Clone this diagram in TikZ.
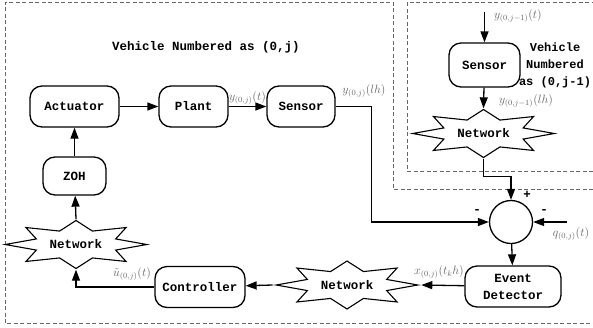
\documentclass[tikz,border=0pt]{standalone}
\usepackage{amsmath}
\usepackage{fontspec}
\newfontfamily\blockfont{Liberation Mono}
\usetikzlibrary{shapes.geometric, arrows.meta, positioning}

\begin{document}
\begin{tikzpicture}[
    x=1pt, y=-1pt,
    block/.style={rectangle, draw, line width=1.3pt, rounded corners=12pt, minimum height=41pt, align=center, fill=white, inner sep=2pt, font=\blockfont\bfseries\fontsize{12.5}{17}\selectfont},
    netstar/.style={star, star points=8, star point ratio=1.65, draw, line width=1.1pt, fill=white, inner sep=0pt, minimum size=48pt, xscale=2.95, transform shape},
    nettext/.style={font=\blockfont\bfseries\fontsize{12.5}{14}\selectfont, inner sep=0pt},
    sumcirc/.style={circle, draw, line width=1.3pt, minimum size=43pt, inner sep=0pt},
    title/.style={font=\blockfont\bfseries\fontsize{12.5}{17}\selectfont, align=center, inner sep=0pt},
    mlabel/.style={text=black!60, font=\fontsize{12}{14}\selectfont, inner sep=1pt},
    sign/.style={font=\blockfont\bfseries\fontsize{12.5}{14}\selectfont, inner sep=0pt},
    arrow/.style={-{Triangle[length=11pt,width=8pt]}, line width=1.3pt},
    frame/.style={draw=black!60, line width=0.8pt, dash pattern=on 4pt off 2.5pt}
]
    \useasboundingbox (0,0) rectangle (593,327);

    % Vehicle frames
    \draw[frame] (593,189) -- (393,189) -- (393,2) -- (5,2) -- (5,323) -- (593,323);
    \draw[frame] (593,171) -- (407,171) -- (407,2) -- (593,2);

    % Vehicle (0,j)
    \node[title] (titleA) at (206,47) {Vehicle Numbered as (0,j)};
    \node[block, minimum width=89pt] (actuator) at (74.5,106.5) {Actuator};
    \node[block, minimum width=69pt] (plant) at (193.5,106.5) {Plant};
    \node[block, minimum width=68pt] (sensor) at (301,106.5) {Sensor};
    \node[block, minimum width=63pt, minimum height=38pt] (zoh) at (74.5,176) {ZOH};
    \node[netstar] (netA) at (76,244.5) {};
    \node[nettext] (netAtext) at (netA) {Network};
    \node[block, minimum width=90pt] (controller) at (200,287) {Controller};
    \node[netstar] (netB) at (347,285) {};
    \node[nettext] (netBtext) at (netB) {Network};
    \node[block, minimum width=96pt] (detector) at (513,286.5) {Event\\Detector};
    \node[sumcirc] (sum) at (511,222) {};
    \coordinate (qin) at (567,222);

    % Vehicle (0,j-1)
    \node[title, font=\blockfont\bfseries\fontsize{12}{17}\selectfont] (titleB) at (555,65) {Vehicle\\Numbered\\as (0,j-1)};
    \node[block, minimum width=71pt, minimum height=44pt] (sensorB) at (484.5,65) {Sensor};
    \node[netstar] (netC) at (483.5,133.5) {};
    \node[nettext] (netCtext) at (netC) {Network};
    \coordinate (yin) at (484.5,12);

    % Connections
    \draw[arrow] (actuator) -- (plant);
    \draw[arrow] (plant) -- node[mlabel, above] {$y_{(0,j)}(t)$} (sensor);
    \draw[arrow] (sensor.east) -- ++(36,0) |- (sum.west);
    \draw[arrow] (yin) -- (sensorB);
    \draw[arrow] (sensorB) -- (netC.north);
    \draw[arrow] (netC.south) -- ++(0,18) -| (sum.north);
    \draw[arrow] (qin) -- (sum);
    \draw[arrow] (sum) -- (detector);
    \draw[arrow] (detector) -- (netB.east);
    \draw[arrow] (netB.west) -- (controller);
    \draw[arrow] (controller.west) -| (netA.south);
    \draw[arrow] (netA.north) -- (zoh);
    \draw[arrow] (zoh) -- (actuator);

    % Signal labels
    \node[mlabel] (ylhA) at (364,91) {$y_{(0,j)}(lh)$};
    \node[mlabel] (ytB) at (518,16) {$y_{(0,j-1)}(t)$};
    \node[mlabel] (ylhB) at (526,101) {$y_{(0,j-1)}(lh)$};
    \node[mlabel] (qlab) at (571,234) {$q_{(0,j)}(t)$};
    \node[mlabel] (xlab) at (439,272) {$x_{(0,j)}(t_k h)$};
    \node[mlabel] (ulab) at (132,274) {$\tilde{u}_{(0,j)}(t)$};
    \node[sign] (plus) at (527,195) {+};
    \node[sign] (minusL) at (477,212) {-};
    \node[sign] (minusR) at (544,212) {-};
\end{tikzpicture}
\end{document}
